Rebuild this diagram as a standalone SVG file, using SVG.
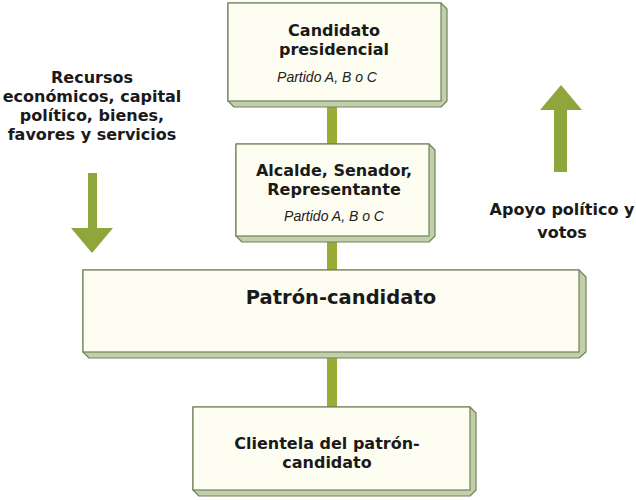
<svg xmlns="http://www.w3.org/2000/svg" width="636" height="500" viewBox="0 0 636 500">
<style>
.side{fill:#c3cfaa;stroke:#6f8259;stroke-width:1.2;stroke-linejoin:round}
.face{fill:#fdfdf1;stroke:#6f8259;stroke-width:1.2}
.b{font-family:"DejaVu Sans",sans-serif;font-weight:bold;font-size:16px;fill:#1a1a1a;text-anchor:middle}
.i{font-family:"Liberation Sans",Arial,sans-serif;font-style:italic;font-size:14px;fill:#222;text-anchor:middle}
.conn{fill:#9aac36}
.arr{fill:#8fa63c}
</style>
<rect width="636" height="500" fill="#ffffff"/>
<g id="connectors">
<rect class="conn" x="327" y="105" width="10" height="40"/>
<rect class="conn" x="327" y="240" width="10" height="31"/>
<rect class="conn" x="327" y="355" width="10" height="53"/>
</g>
<g id="node-candidato">
<polygon class="side" points="228,3 441,3 447,9 447,101 441,107 234,107 228,101"/>
<rect class="face" x="228" y="3" width="213" height="98"/>
<text class="b" x="334" y="36">Candidato</text>
<text class="b" x="334" y="55">presidencial</text>
<text class="i" x="327" y="82">Partido A, B o C</text>
</g>
<g id="node-alcalde">
<polygon class="side" points="236,144 429,144 435,150 435,236 429,242 242,242 236,236"/>
<rect class="face" x="236" y="144" width="193" height="92"/>
<text class="b" x="334" y="176">Alcalde, Senador,</text>
<text class="b" x="334" y="195">Representante</text>
<text class="i" x="334" y="221">Partido A, B o C</text>
</g>
<g id="node-patron">
<polygon class="side" points="83,270 579,270 586,277 586,352 579,358 89,358 83,352"/>
<rect class="face" x="83" y="270" width="496" height="82"/>
<text class="b" x="341" y="304" style="font-size:19.5px">Patrón-candidato</text>
</g>
<g id="node-clientela">
<polygon class="side" points="193,407 470,407 476,413 476,490 470,496 199,496 193,490"/>
<rect class="face" x="193" y="407" width="277" height="83"/>
<text class="b" x="327" y="449">Clientela del patrón-</text>
<text class="b" x="327" y="468">candidato</text>
</g>
<g id="node-recursos">
<text class="b" x="92" y="83">Recursos</text>
<text class="b" x="92" y="102">económicos, capital</text>
<text class="b" x="92" y="121">político, bienes,</text>
<text class="b" x="92" y="140">favores y servicios</text>
<polygon class="arr" points="88,173 97,173 97,228 113,228 92,253 71,228 88,228"/>
</g>
<g id="node-apoyo">
<polygon class="arr" points="554,172 567,172 567,110 582,110 561,85 540,110 554,110"/>
<text class="b" x="562" y="215">Apoyo político y</text>
<text class="b" x="562" y="238">votos</text>
</g>
</svg>
